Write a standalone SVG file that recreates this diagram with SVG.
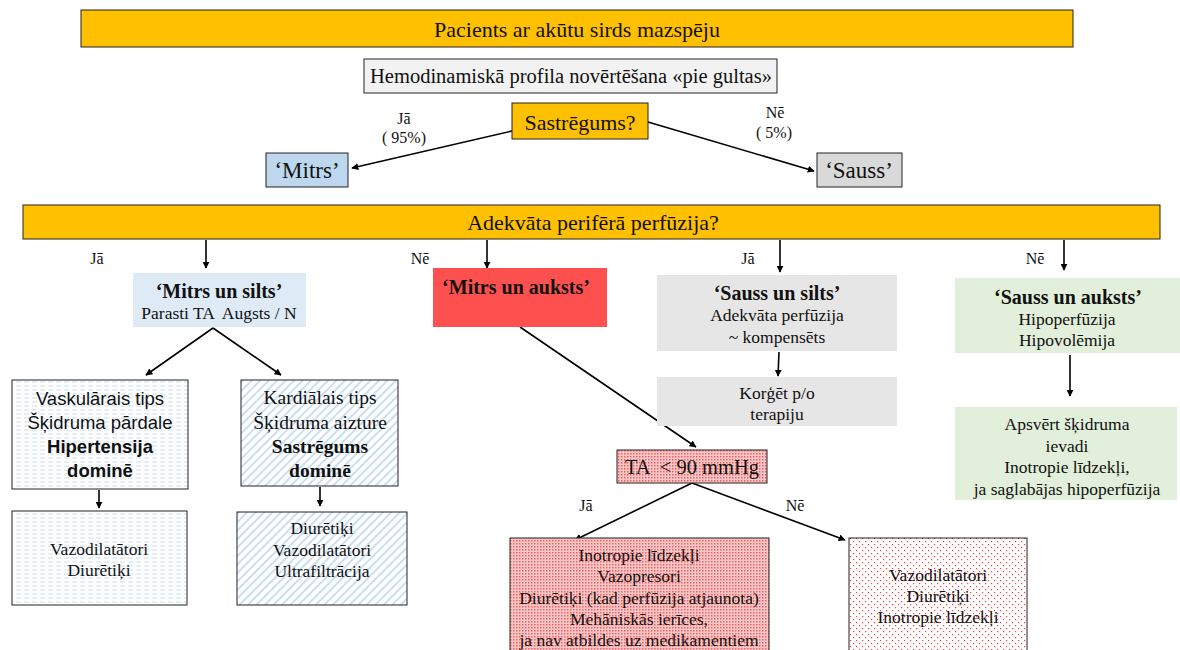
<svg xmlns="http://www.w3.org/2000/svg" width="1180" height="650" viewBox="0 0 1180 650">
<defs>
<style>
text{font-family:"Liberation Serif","Times New Roman",serif;fill:#111;text-anchor:middle;dominant-baseline:central;white-space:pre}
.t23{font-size:23px}
.t22{font-size:22px}
.t20{font-size:20.5px}
.t19{font-size:19.5px}
.tb{font-size:20px;font-weight:bold}
.t17{font-size:17.5px}
.t16{font-size:16px}
.b{font-weight:bold}
.sans{font-family:"Liberation Sans",Arial,sans-serif;font-size:18.5px}
.c{stroke:#000;stroke-width:1.6;fill:none;marker-end:url(#ah)}
.bx{stroke:#222;stroke-width:1}
</style>
<marker id="ah" viewBox="0 0 10 10" refX="9" refY="5" markerWidth="7" markerHeight="7" markerUnits="userSpaceOnUse" orient="auto"><path d="M0,0 L10,5 L0,10 z" fill="#000"/></marker>
<pattern id="hdash" width="8" height="4" patternUnits="userSpaceOnUse"><rect width="8" height="4" fill="#fff"/><line x1="0" y1="2" x2="5" y2="2" stroke="#C9DDF0" stroke-width="1"/></pattern>
<pattern id="diag" width="6" height="6" patternUnits="userSpaceOnUse" patternTransform="rotate(-45)"><rect width="6" height="6" fill="#fff"/><line x1="0" y1="3" x2="6" y2="3" stroke="#BDD7EE" stroke-width="1.6"/></pattern>
<pattern id="dense" width="3" height="3" patternUnits="userSpaceOnUse"><rect width="3" height="3" fill="#F8C8C8"/><rect width="1.5" height="1.5" fill="#F06060"/></pattern>
<pattern id="sparse" width="6" height="6" patternUnits="userSpaceOnUse"><rect width="6" height="6" fill="#fff"/><rect x="1" y="1" width="1.2" height="1.2" fill="#F04040"/><rect x="4" y="4" width="1.2" height="1.2" fill="#F04040"/></pattern>
</defs>
<rect width="1180" height="650" fill="#fff"/>

<g id="connectors">
<line class="c" x1="512" y1="131" x2="352" y2="168"/>
<line class="c" x1="648" y1="122" x2="814" y2="171"/>
<line class="c" x1="206" y1="240" x2="206" y2="268"/>
<line class="c" x1="487" y1="240" x2="487" y2="268"/>
<line class="c" x1="780" y1="240" x2="780" y2="272"/>
<line class="c" x1="1064" y1="240" x2="1064" y2="270"/>
<line class="c" x1="213" y1="328" x2="146" y2="375"/>
<line class="c" x1="213" y1="328" x2="281" y2="375"/>
<line class="c" x1="99" y1="490" x2="99" y2="508"/>
<line class="c" x1="320" y1="487" x2="320" y2="506"/>
<line class="c" x1="779" y1="352" x2="778" y2="376"/>
<line class="c" x1="1070" y1="355" x2="1070" y2="396"/>
<line class="c" x1="520" y1="327" x2="696" y2="447"/>
<line class="c" x1="692" y1="483" x2="575" y2="540"/>
<line class="c" x1="692" y1="483" x2="845" y2="540"/>
</g>

<g id="labels">
<text class="t16" x="404" y="118">Jā</text>
<text class="t16" x="404" y="137">( 95%)</text>
<text class="t16" x="775" y="112">Nē</text>
<text class="t16" x="774" y="132">( 5%)</text>
<text class="t16" x="97" y="258">Jā</text>
<text class="t16" x="420" y="258">Nē</text>
<text class="t16" x="748" y="258">Jā</text>
<text class="t16" x="1035" y="258">Nē</text>
<text class="t16" x="586" y="505">Jā</text>
<text class="t16" x="795" y="505">Nē</text>
</g>

<g id="n-pacients">
<rect class="bx" x="81" y="10" width="992" height="37" fill="#FFC000" stroke="#555"/>
<text class="t22" x="577" y="29">Pacients ar akūtu sirds mazspēju</text>
</g>
<g id="n-hemo">
<rect class="bx" x="364" y="59" width="413" height="34" fill="#F2F2F2"/>
<text class="t20" x="571" y="76">Hemodinamiskā profila novērtēšana «pie gultas»</text>
</g>
<g id="n-sastregums">
<rect class="bx" x="512" y="103" width="136" height="36" fill="#FFC000" stroke="#555"/>
<text class="t22" x="580" y="122">Sastrēgums?</text>
</g>
<g id="n-mitrs">
<rect class="bx" x="266" y="153" width="82" height="34" fill="#BDD7EE"/>
<text class="t23" x="307" y="170">‘Mitrs’</text>
</g>
<g id="n-sauss">
<rect class="bx" x="817" y="153" width="85" height="34" fill="#D9D9D9"/>
<text class="t23" x="859" y="170">‘Sauss’</text>
</g>
<g id="n-adekvata">
<rect class="bx" x="23" y="205" width="1137" height="34" fill="#FFC000" stroke="#555"/>
<text class="t22" x="593" y="222">Adekvāta perifērā perfūzija?</text>
</g>
<g id="n-mitrs-silts">
<rect x="133" y="273" width="173" height="54" fill="#DEEBF7"/>
<text class="tb" x="219" y="291">‘Mitrs un silts’</text>
<text class="t17" x="219" y="313">Parasti TA  Augsts / N</text>
</g>
<g id="n-mitrs-auksts">
<rect x="433" y="268" width="174" height="59" fill="#FF5050"/>
<text class="tb" x="516" y="287">‘Mitrs un auksts’</text>
</g>
<g id="n-sauss-silts">
<rect x="657" y="275" width="240" height="76" fill="#E7E6E6"/>
<text class="tb" x="777" y="293">‘Sauss un silts’</text>
<text class="t17" x="777" y="315">Adekvāta perfūzija</text>
<text class="t17" x="777" y="337">~ kompensēts</text>
</g>
<g id="n-sauss-auksts">
<rect x="955" y="278" width="225" height="75" fill="#E2EFDA"/>
<text class="tb" x="1068" y="297">‘Sauss un auksts’</text>
<text class="t17" x="1067" y="319">Hipoperfūzija</text>
<text class="t17" x="1067" y="340">Hipovolēmija</text>
</g>
<g id="n-korget">
<rect x="657" y="377" width="240" height="49" fill="#E7E6E6"/>
<text class="t17" x="777" y="393">Korģēt p/o</text>
<text class="t17" x="777" y="414">terapiju</text>
</g>
<g id="n-apsvert">
<rect x="955" y="407" width="222" height="93" fill="#E2EFDA"/>
<text class="t17" x="1067" y="424">Apsvērt šķidruma</text>
<text class="t17" x="1067" y="446">ievadi</text>
<text class="t17" x="1067" y="467">Inotropie līdzekļi,</text>
<text class="t17" x="1067" y="489">ja saglabājas hipoperfūzija</text>
</g>
<g id="n-vaskularais">
<rect class="bx" x="12" y="380" width="176" height="109" fill="url(#hdash)"/>
<text class="sans" x="100" y="398">Vaskulārais tips</text>
<text class="sans" x="100" y="422">Šķidruma pārdale</text>
<text class="sans b" x="100" y="446">Hipertensija</text>
<text class="sans b" x="100" y="470">dominē</text>
</g>
<g id="n-kardialais">
<rect class="bx" x="241" y="380" width="157" height="106" fill="url(#diag)"/>
<text class="t19" x="320" y="397">Kardiālais tips</text>
<text class="t19" x="320" y="422">Šķidruma aizture</text>
<text class="t19 b" x="320" y="446">Sastrēgums</text>
<text class="t19 b" x="320" y="470">dominē</text>
</g>
<g id="n-vazo1">
<rect class="bx" x="12" y="511" width="175" height="94" fill="url(#hdash)"/>
<text class="t17" x="99" y="549">Vazodilatātori</text>
<text class="t17" x="99" y="570">Diurētiķi</text>
</g>
<g id="n-diur1">
<rect class="bx" x="237" y="512" width="170" height="93" fill="url(#diag)"/>
<text class="t17" x="322" y="528">Diurētiķi</text>
<text class="t17" x="322" y="550">Vazodilatātori</text>
<text class="t17" x="322" y="571">Ultrafiltrācija</text>
</g>
<g id="n-ta">
<rect class="bx" x="617" y="450" width="150" height="33" fill="url(#dense)"/>
<text class="t20" x="692" y="467">TA  &lt; 90 mmHg</text>
</g>
<g id="n-inotropie">
<rect class="bx" x="510" y="538" width="259" height="120" fill="url(#dense)"/>
<text class="t17" x="639" y="555">Inotropie līdzekļi</text>
<text class="t17" x="639" y="576">Vazopresori</text>
<text class="t17" x="639" y="598">Diurētiķi (kad perfūzija atjaunota)</text>
<text class="t17" x="639" y="619">Mehāniskās ierīces,</text>
<text class="t17" x="639" y="640">ja nav atbildes uz medikamentiem</text>
</g>
<g id="n-vazo2">
<rect class="bx" x="849" y="538" width="178" height="120" fill="url(#sparse)"/>
<text class="t17" x="938" y="575">Vazodilatātori</text>
<text class="t17" x="938" y="596">Diurētiķi</text>
<text class="t17" x="938" y="617">Inotropie līdzekļi</text>
</g>
</svg>
